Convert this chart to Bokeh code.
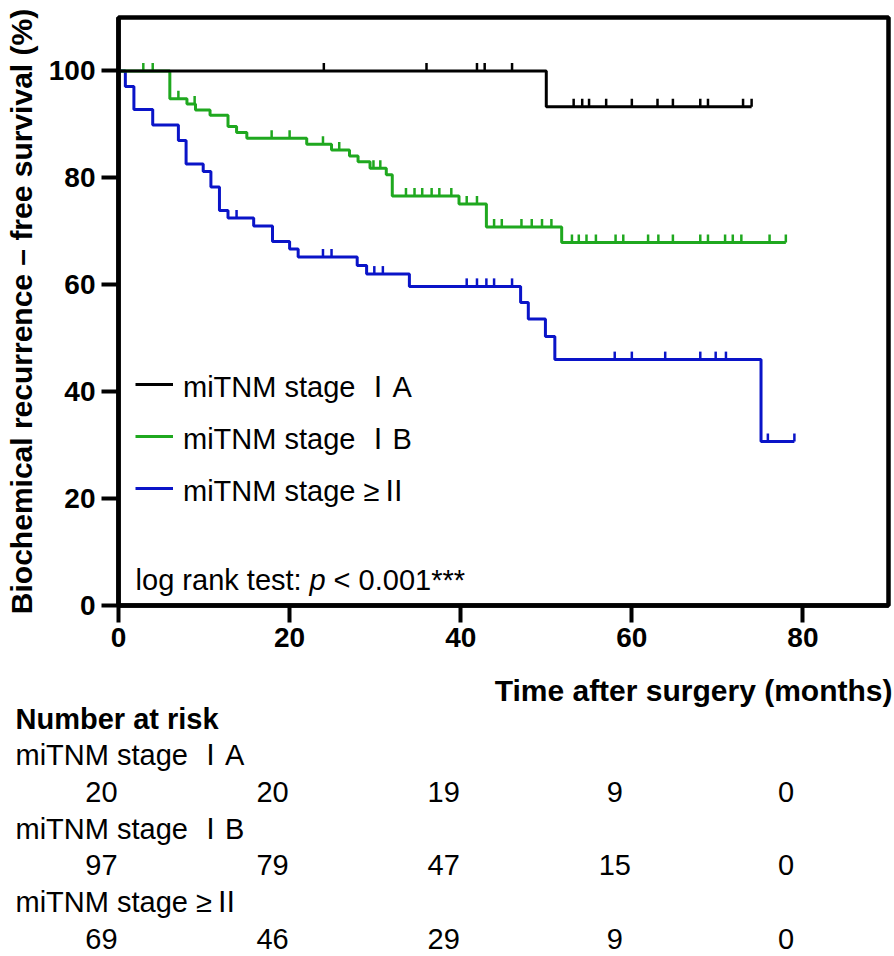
import numpy as np
from math import pi
from bokeh.plotting import figure
from bokeh.models import Range1d, Legend, LegendItem, Label, ColumnDataSource, FixedTicker
from bokeh.embed import file_html
from bokeh.resources import INLINE
from bokeh.core.properties import value

# ---------------- data ----------------
groups = ["miTNM stage ⅠA", "miTNM stage ⅠB", "miTNM stage ≥Ⅱ"]
colors = ["#000000", "#1fa81f", "#0a14c8"]

ia_step_t = [0, 50]
ia_step_s = [100, 93.3]
ia_end = 74
ia_censor = [24, 36, 41.9, 42.8, 46, 53.2, 54.2, 55.0, 57, 60, 63, 64.8, 68, 68.9, 73, 74]

ib_step_t = [0, 6, 8, 9, 10.7, 12.8, 13.8, 15, 22, 24.9, 27, 28, 29.4, 31.3, 32, 39.8, 43, 51.8]
ib_step_s = [100, 94.8, 93.8, 92.7, 91.7, 89.6, 88.5, 87.4, 86.3, 85.2, 84.1, 83.0, 81.8, 80.6, 76.6, 75.1, 70.8, 67.9]
ib_end = 78
ib_censor = [2.9, 4.0, 7.0, 8.9, 17.9, 20.0, 23.9, 25.8, 29.8, 30.6, 33.6, 34.6, 35.5, 36.6, 37.5,
             38.9, 40.7, 41.9, 43.9, 44.8, 47.1, 48.3, 49.5, 50.6, 53.0, 53.8, 54.7, 55.8, 58.1,
             59.0, 61.9, 63.1, 64.8, 68.0, 68.9, 70.9, 71.8, 72.8, 76.1, 78.0]

ii_step_t = [0, 0.8, 1.8, 4, 7, 7.9, 9.9, 10.8, 11.8, 12.8, 15.8, 18, 20, 21, 27.9, 29, 34,
             47, 47.9, 49.9, 51, 75.1]
ii_step_s = [100, 97.1, 92.8, 89.9, 87.0, 82.6, 81.2, 78.3, 73.9, 72.5, 71.0, 68.1, 66.7, 65.2,
             63.6, 62.0, 59.7, 56.7, 53.6, 50.3, 46.0, 30.7]
ii_end = 79
ii_censor = [13.8, 23.9, 24.9, 29.9, 30.9, 40.7, 41.9, 43.0, 43.9, 46.0, 58.0, 60.0, 63.9, 68.0,
             69.8, 71.0, 75.9, 79.0]

risk_times = [0, 20, 40, 60, 80]
risk_ia = [20, 20, 19, 9, 0]
risk_ib = [97, 79, 47, 15, 0]
risk_ii = [69, 46, 29, 9, 0]

x_ticks = [0, 20, 40, 60, 80]
y_ticks = [0, 20, 40, 60, 80, 100]

FONT = "Liberation Sans"
GFONT = "'Liberation Sans', 'Noto Sans CJK SC'"

# ---------------- main KM plot ----------------
W = 894
BL, BR, BT, BB = 118, 6, 17, 57
H1 = 662
XMAX = 90
p = figure(width=W, height=H1, x_range=Range1d(0, XMAX), y_range=Range1d(0, 110),
           output_backend="svg", toolbar_location=None,
           min_border_left=BL, min_border_right=BR, min_border_top=BT, min_border_bottom=BB)
p.xgrid.visible = False
p.ygrid.visible = False
p.outline_line_color = "black"
p.outline_line_width = 4.5
p.outline_line_alpha = 1.0

p.xaxis.ticker = FixedTicker(ticks=x_ticks)
p.yaxis.ticker = FixedTicker(ticks=y_ticks)
for ax in (p.xaxis[0], p.yaxis[0]):
    ax.axis_line_width = 4.5
    ax.axis_line_color = "black"
    ax.major_tick_line_width = 4
    ax.major_tick_line_color = "black"
    ax.major_tick_out = 17
    ax.major_tick_in = 0
    ax.minor_tick_line_color = None
    ax.major_label_text_font = FONT
    ax.major_label_text_font_style = "bold"
    ax.major_label_text_font_size = "28px"
    ax.major_label_text_color = "black"
p.xaxis.major_label_standoff = 5
p.yaxis.major_label_standoff = 6
p.yaxis.axis_label = "Biochemical recurrence – free survival (%)"
p.yaxis.axis_label_text_font = FONT
p.yaxis.axis_label_text_font_style = "bold"
p.yaxis.axis_label_text_font_size = "30px"
p.yaxis.axis_label_text_color = "black"
p.yaxis.axis_label_standoff = 8


def s_at(ts, ss, t):
    idx = np.searchsorted(np.asarray(ts, dtype=float), t, side="right") - 1
    return float(ss[idx])


curves = [
    (ii_step_t, ii_step_s, ii_end, ii_censor, colors[2], groups[2]),
    (ib_step_t, ib_step_s, ib_end, ib_censor, colors[1], groups[1]),
    (ia_step_t, ia_step_s, ia_end, ia_censor, colors[0], groups[0]),
]
legend_map = {}
for ts, ss, end, cens, col, name in curves:
    xs = list(ts) + [end]
    ys = list(ss) + [ss[-1]]
    r = p.step(x=xs, y=ys, mode="after", line_color=col, line_width=3)
    cy = [s_at(ts, ss, t) for t in cens]
    p.ray(x=cens, y=cy, length=8, angle=pi / 2, length_units="screen",
          line_color=col, line_width=2.5)
    legend_map[name] = [r]

legend = Legend(items=[LegendItem(label=value(g), renderers=legend_map[g]) for g in groups],
                location=(17, 96))
legend.label_text_font = GFONT
legend.label_text_font_size = "29px"
legend.label_text_color = "black"
legend.glyph_width = 38
legend.glyph_height = 30
legend.label_height = 30
legend.spacing = 10
legend.padding = 0
legend.margin = 0
legend.label_standoff = 10
legend.border_line_color = None
legend.background_fill_alpha = 0
p.add_layout(legend)

kw = dict(text_font=FONT, text_font_size="29px", text_baseline="middle", text_color="black")
p.add_layout(Label(x=2.0, y=4.7, text="log rank test:", **kw))
p.add_layout(Label(x=2.0, y=4.7, x_offset=174, text="p", text_font_style="italic", **kw))
p.add_layout(Label(x=2.0, y=4.7, x_offset=198, text="< 0.001***", **kw))

# ---------------- number-at-risk table (separate root, full-width frame) ----------------
H2 = 294
PX = (W - BL - BR) / XMAX
p2 = figure(width=W, height=H2, x_range=Range1d(-BL / PX, (W - BL) / PX), y_range=Range1d(H2, 0),
            output_backend="svg", toolbar_location=None,
            min_border=0, min_border_left=0, min_border_right=0, min_border_top=0,
            min_border_bottom=0, x_axis_location=None, y_axis_location=None)
p2.xgrid.visible = False
p2.ygrid.visible = False
p2.outline_line_color = None

x_left = -BL / PX
tkw = dict(text_baseline="middle", text_color="black")
p2.text(x=[XMAX], y=[28], x_offset=4, text=["Time after surgery (months)"], text_align="right",
        text_font=value(FONT), text_font_style="bold", text_font_size="30px", **tkw)
p2.text(x=[x_left], y=[56], x_offset=15, text=["Number at risk"], text_align="left",
        text_font=value(FONT), text_font_style="bold", text_font_size="29px", **tkw)

pitch = 36.7
for i, (g, nums) in enumerate(zip(groups, [risk_ia, risk_ib, risk_ii])):
    ly = 56 + pitch * (2 * i + 1)
    ny = 56 + pitch * (2 * i + 2)
    p2.text(x=[x_left], y=[ly], x_offset=15, text=[g], text_align="left",
            text_font=value(GFONT), text_font_size="29px", **tkw)
    src = ColumnDataSource(dict(x=risk_times, y=[ny] * len(risk_times),
                                t=[str(n) for n in nums]))
    p2.text(x="x", y="y", text="t", source=src, x_offset=-17, text_align="center",
            text_font=value(FONT), text_font_size="29px", **tkw)

open("out.html", "w").write(file_html([p, p2], INLINE))
